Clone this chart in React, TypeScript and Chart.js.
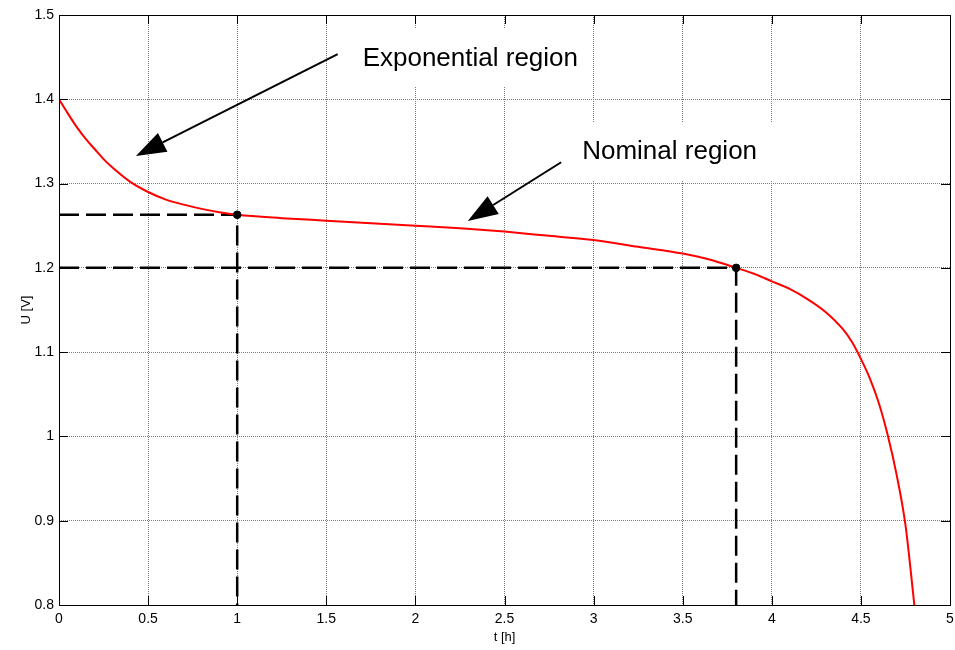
import React, { useEffect, useRef } from 'react';
import { Chart, registerables } from 'chart.js';

Chart.register(...registerables);

// ---- Data ----
const tValues = [0, 0.05, 0.1, 0.15, 0.2, 0.25, 0.3, 0.4, 0.5, 0.6, 0.7, 0.8, 0.9, 1.0, 1.25, 1.5, 1.75, 2.0, 2.25, 2.5, 2.75, 3.0, 3.25, 3.5, 3.65, 3.8, 3.9, 4.0, 4.1, 4.2, 4.3, 4.4, 4.45, 4.5, 4.55, 4.6, 4.65, 4.7, 4.75, 4.8];
const uValues = [1.400, 1.383, 1.367, 1.353, 1.341, 1.329, 1.319, 1.302, 1.290, 1.281, 1.275, 1.270, 1.266, 1.263, 1.259, 1.256, 1.253, 1.250, 1.247, 1.243, 1.238, 1.233, 1.225, 1.217, 1.210, 1.200, 1.193, 1.184, 1.175, 1.163, 1.148, 1.127, 1.112, 1.092, 1.069, 1.040, 1.002, 0.955, 0.895, 0.800];

const markerT = [1, 3.8];
const markerU = [1.263, 1.2];

const xMin = 0;
const xMax = 5;
const yMin = 0.8;
const yMax = 1.5;

const xTickValues = [0, 0.5, 1, 1.5, 2, 2.5, 3, 3.5, 4, 4.5, 5];
const xTickLabels = ['0', '0.5', '1', '1.5', '2', '2.5', '3', '3.5', '4', '4.5', '5'];
const yTickValues = [0.8, 0.9, 1, 1.1, 1.2, 1.3, 1.4, 1.5];
const yTickLabels = ['0.8', '0.9', '1', '1.1', '1.2', '1.3', '1.4', '1.5'];

const xTitle = 't [h]';
const yTitle = 'U [V]';

const annotationTexts = ['Exponential region', 'Nominal region'];
const annotationTextT = [1.704, 2.936];
const annotationTextU = [1.4395, 1.3288];
const arrowFromT = [1.564, 2.818];
const arrowFromU = [1.4537, 1.3253];
const arrowToT = [0.4316, 2.294];
const arrowToU = [1.3327, 1.2556];

const FONT = '"Liberation Sans", Arial, Helvetica, sans-serif';

const annotationPlugin = {
  id: 'matlabAnnotations',
  beforeDatasetsDraw(chart: any) {
    const { ctx } = chart;
    const x = chart.scales.x;
    const y = chart.scales.y;
    ctx.save();
    ctx.font = `26px ${FONT}`;
    ctx.fillStyle = '#ffffff';
    annotationTexts.forEach((txt, i) => {
      const px = x.getPixelForValue(annotationTextT[i]);
      const py = y.getPixelForValue(annotationTextU[i]);
      const w = ctx.measureText(txt).width;
      ctx.fillRect(px - 13, py - 37, w + 28, 58);
    });
    ctx.restore();
  },
  afterDatasetsDraw(chart: any) {
    const { ctx, chartArea } = chart;
    const x = chart.scales.x;
    const y = chart.scales.y;
    const { left, right, top, bottom } = chartArea;
    ctx.save();
    // inward tick marks
    ctx.strokeStyle = '#000';
    ctx.lineWidth = 1;
    const tl = 9;
    xTickValues.forEach((v) => {
      const px = Math.round(x.getPixelForValue(v)) + 0.5;
      ctx.beginPath();
      ctx.moveTo(px, bottom);
      ctx.lineTo(px, bottom - tl);
      ctx.moveTo(px, top);
      ctx.lineTo(px, top + tl);
      ctx.stroke();
    });
    yTickValues.forEach((v) => {
      const py = Math.round(y.getPixelForValue(v)) + 0.5;
      ctx.beginPath();
      ctx.moveTo(left, py);
      ctx.lineTo(left + tl, py);
      ctx.moveTo(right, py);
      ctx.lineTo(right - tl, py);
      ctx.stroke();
    });
    // frame
    ctx.strokeRect(Math.round(left) + 0.5, Math.round(top) + 0.5, Math.round(right - left), Math.round(bottom - top));

    // texts
    ctx.font = `26px ${FONT}`;
    ctx.fillStyle = '#000';
    ctx.textBaseline = 'alphabetic';
    ctx.textAlign = 'left';
    annotationTexts.forEach((txt, i) => {
      ctx.fillText(txt, x.getPixelForValue(annotationTextT[i]), y.getPixelForValue(annotationTextU[i]));
    });

    // arrows
    const headLen = 30;
    const headHalf = 10.5;
    arrowFromT.forEach((_, i) => {
      const x0 = x.getPixelForValue(arrowFromT[i]);
      const y0 = y.getPixelForValue(arrowFromU[i]);
      const x1 = x.getPixelForValue(arrowToT[i]);
      const y1 = y.getPixelForValue(arrowToU[i]);
      const dx = x1 - x0;
      const dy = y1 - y0;
      const len = Math.hypot(dx, dy);
      const ux = dx / len;
      const uy = dy / len;
      const bx = x1 - ux * headLen;
      const by = y1 - uy * headLen;
      ctx.lineWidth = 2;
      ctx.beginPath();
      ctx.moveTo(x0, y0);
      ctx.lineTo(bx, by);
      ctx.stroke();
      ctx.beginPath();
      ctx.moveTo(x1, y1);
      ctx.lineTo(bx - uy * headHalf, by + ux * headHalf);
      ctx.lineTo(bx + uy * headHalf, by - ux * headHalf);
      ctx.closePath();
      ctx.fill();
    });
    ctx.restore();
  },
};

export default function App() {
  const canvasRef = useRef<HTMLCanvasElement | null>(null);

  useEffect(() => {
    if (!canvasRef.current) return;
    const curve = tValues.map((t, i) => ({ x: t, y: uValues[i] }));
    const dashed = markerT.map((t, i) => ({
      type: 'line' as const,
      data: [
        { x: xMin, y: markerU[i] },
        { x: t, y: markerU[i] },
        { x: t, y: yMin },
      ],
      borderColor: '#000',
      borderWidth: 2.5,
      borderDash: [20, 7],
      pointRadius: 0,
      tension: 0,
      order: 3,
    }));

    const chart = new Chart(canvasRef.current, {
      type: 'line',
      data: {
        datasets: [
          {
            data: markerT.map((t, i) => ({ x: t, y: markerU[i] })),
            showLine: false,
            pointRadius: 3.8,
            pointBackgroundColor: '#000',
            pointBorderColor: '#000',
            borderColor: '#000',
            order: 0,
          } as any,
          {
            data: curve,
            borderColor: '#ff0000',
            borderWidth: 2,
            pointRadius: 0,
            cubicInterpolationMode: 'monotone',
            order: 1,
          },
          ...dashed,
        ],
      },
      options: {
        responsive: false,
        animation: false,
        events: [],
        layout: { padding: { left: 0, top: 15, right: 4, bottom: 0 } },
        plugins: {
          legend: { display: false },
          tooltip: { enabled: false },
        },
        scales: {
          x: {
            type: 'linear',
            min: xMin,
            max: xMax,
            afterBuildTicks: (s: any) => {
              s.ticks = xTickValues.map((v) => ({ value: v }));
            },
            afterFit: (s: any) => {
              s.height = 45;
              s.paddingLeft = 0;
              s.paddingRight = 0;
            },
            ticks: {
              callback: (_v: any, i: number) => xTickLabels[i],
              maxRotation: 0,
              minRotation: 0,
              autoSkip: false,
              padding: 6,
              color: '#000',
              font: { family: FONT, size: 14 },
            },
            grid: { color: '#7a7a7a', lineWidth: 1, drawTicks: false },
            border: { display: false, dash: [1, 1] },
            title: {
              display: true,
              text: xTitle,
              color: '#000',
              font: { family: FONT, size: 13 },
              padding: { top: 0, bottom: 5 },
            },
          },
          y: {
            type: 'linear',
            min: yMin,
            max: yMax,
            afterBuildTicks: (s: any) => {
              s.ticks = yTickValues.map((v) => ({ value: v }));
            },
            afterFit: (s: any) => {
              s.width = 59;
              s.paddingTop = 0;
              s.paddingBottom = 0;
            },
            ticks: {
              callback: (_v: any, i: number) => yTickLabels[i],
              autoSkip: false,
              padding: 5,
              color: '#000',
              font: { family: FONT, size: 14 },
            },
            grid: { color: '#7a7a7a', lineWidth: 1, drawTicks: false },
            border: { display: false, dash: [1, 1] },
            title: {
              display: true,
              text: yTitle,
              color: '#000',
              font: { family: FONT, size: 13 },
              padding: { top: 19, bottom: 0 },
            },
          },
        },
      },
      plugins: [annotationPlugin],
    } as any);

    return () => chart.destroy();
  }, []);

  return (
    <div style={{ position: 'fixed', left: 0, top: 0, width: 955, height: 650, background: '#fff' }}>
      <canvas ref={canvasRef} width={955} height={650} style={{ display: 'block' }} />
    </div>
  );
}
